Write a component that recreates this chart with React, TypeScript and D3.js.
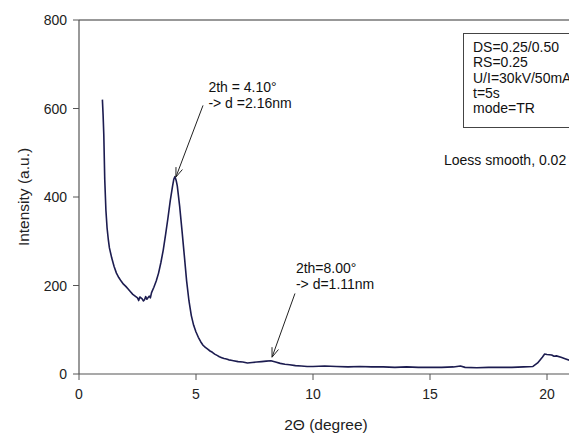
import React from 'react';
import * as d3 from 'd3';

// 2-theta scan
const angle = [
  1.0, 1.03, 1.06, 1.1, 1.15, 1.2, 1.25, 1.3, 1.4, 1.5, 1.6, 1.7, 1.8, 1.9, 2.0, 2.1, 2.2, 2.3,
  2.4, 2.5, 2.55, 2.6, 2.7, 2.75, 2.8, 2.85, 2.9, 3.0, 3.05, 3.1, 3.2, 3.3, 3.4, 3.5, 3.6, 3.7,
  3.8, 3.9, 4.0, 4.05, 4.1, 4.15, 4.2, 4.3, 4.4, 4.5, 4.6, 4.7, 4.8, 4.9, 5.0, 5.1, 5.2, 5.3,
  5.4, 5.5, 5.6, 5.7, 5.8, 5.9, 6.0, 6.1, 6.2, 6.3, 6.4, 6.5, 6.6, 6.8, 7.0, 7.2, 7.4, 7.6,
  7.8, 8.0, 8.2, 8.4, 8.6, 8.8, 9.0, 9.25, 9.5, 9.75, 10.0, 10.5, 11.0, 11.5, 12.0, 12.5, 13.0,
  13.5, 14.0, 14.5, 15.0, 15.5, 16.0, 16.3, 16.5, 17.0, 17.5, 18.0, 18.5, 19.0, 19.4, 19.6,
  19.8, 19.9, 20.0, 20.2, 20.3, 20.4, 20.6, 20.8, 21.0,
];
const intensity = [
  620, 585, 540, 440, 370, 330, 305, 285, 262, 243, 228, 218, 210, 203, 198, 192, 186, 180,
  176, 172, 166, 174, 170, 165, 168, 175, 169, 176, 172, 184, 196, 210, 228, 252, 280, 315,
  352, 392, 425, 440, 446, 438, 425, 380, 325, 268, 210, 165, 132, 110, 95, 83, 73, 65,
  60, 56, 52, 49, 45, 42, 39, 37, 35, 34, 32, 31, 30, 28, 27, 25, 26, 27,
  28, 29, 30, 27, 24, 22, 21, 19, 18, 17, 17, 18, 17, 16, 17, 16, 16,
  15, 16, 15, 15, 15, 16, 18, 15, 14, 15, 15, 15, 16, 17, 25,
  38, 45, 44, 43, 40, 41, 38, 34, 30,
];

const xTicks = [0, 5, 10, 15, 20];
const yTicks = [0, 200, 400, 600, 800];
const settings = ['DS=0.25/0.50', 'RS=0.25', 'U/I=30kV/50mA', 't=5s', 'mode=TR'];
const peaks = [
  { lines: ['2th = 4.10\u00b0', '-> d =2.16nm'], tip: [4.14, 445], tail: [5.3, 607], text: [5.53, 637] },
  { lines: ['2th=8.00\u00b0', '-> d=1.11nm'], tip: [8.25, 38], tail: [9.23, 182], text: [9.27, 228] },
];

const W = 569;
const H = 433;
const font = '"Liberation Sans", Arial, sans-serif';

export default function App() {
  const x = d3.scaleLinear().domain([0, 21]).range([79, 570.4]);
  const y = d3.scaleLinear().domain([0, 800]).range([374, 20]);
  const pts = angle.map((a, i) => [a, intensity[i]] as [number, number]);
  const line = d3.line<[number, number]>().x(d => x(d[0])).y(d => y(d[1]));

  const arrowHead = (tip: number[], tail: number[]) => {
    const tx = x(tip[0]), ty = y(tip[1]);
    const ang = Math.atan2(y(tail[1]) - ty, x(tail[0]) - tx);
    const len = 10, spread = 0.35;
    return `M${tx + len * Math.cos(ang - spread)},${ty + len * Math.sin(ang - spread)}L${tx},${ty}L${tx + len * Math.cos(ang + spread)},${ty + len * Math.sin(ang + spread)}`;
  };

  return (
    <svg width={W} height={H} style={{ position: 'absolute', left: 0, top: 0, background: '#fff' }} fontFamily={font}>
      {/* frame */}
      <line x1={x(0)} x2={W} y1={y(800)} y2={y(800)} stroke="#333" strokeWidth={1.2} />
      <line x1={x(0)} x2={x(0)} y1={y(800)} y2={y(0)} stroke="#555" strokeWidth={1.2} />
      <line x1={x(0)} x2={W} y1={y(0)} y2={y(0)} stroke="#555" strokeWidth={1.2} />

      {yTicks.map(t => (
        <g key={t}>
          <line x1={x(0) - 6} x2={x(0)} y1={y(t)} y2={y(t)} stroke="#555" />
          <text x={67} y={y(t) + 5} textAnchor="end" fontSize={14} fill="#222">{t}</text>
        </g>
      ))}
      {xTicks.map(t => (
        <g key={t}>
          <line x1={x(t)} x2={x(t)} y1={y(0)} y2={y(0) + 6} stroke="#555" />
          <text x={x(t)} y={399} textAnchor="middle" fontSize={14} fill="#222">{t}</text>
        </g>
      ))}

      <text x={326} y={430} textAnchor="middle" fontSize={15.5} fill="#222">2Θ (degree)</text>
      <text transform="translate(29,197) rotate(-90)" textAnchor="middle" fontSize={15.5} fill="#222">Intensity (a.u.)</text>

      <path d={line(pts) ?? ''} fill="none" stroke="#1c1c50" strokeWidth={1.6} strokeLinejoin="round" />

      {peaks.map((p, i) => (
        <g key={i}>
          <line x1={x(p.tail[0])} y1={y(p.tail[1])} x2={x(p.tip[0])} y2={y(p.tip[1])} stroke="#222" strokeWidth={1} />
          <path d={arrowHead(p.tip, p.tail)} fill="none" stroke="#222" strokeWidth={1} />
          {p.lines.map((s, j) => (
            <text key={j} x={x(p.text[0])} y={y(p.text[1]) + j * 16} fontSize={14} fill="#111">{s}</text>
          ))}
        </g>
      ))}

      <rect x={463.5} y={33.5} width={130} height={94} fill="#fff" stroke="#444" />
      {settings.map((s, i) => (
        <text key={s} x={473} y={52 + i * 15.3} fontSize={14} fill="#111">{s}</text>
      ))}
      <text x={444} y={165} fontSize={14} fill="#111">Loess smooth, 0.02</text>
    </svg>
  );
}
